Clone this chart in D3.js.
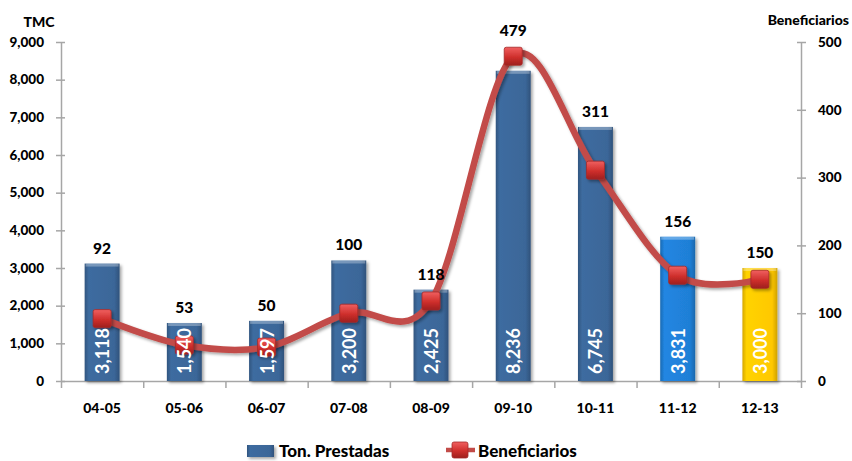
<!DOCTYPE html>
<html>
<head>
<meta charset="utf-8">
<script src="https://cdn.jsdelivr.net/npm/d3@7"></script>
<style>
  body { margin: 0; background: #fff; }
  svg { font-family: Lato, "Open Sans", sans-serif; font-weight: 900; }
</style>
</head>
<body>
<div id="chart"></div>
<script>
"use strict"

// chart data
var periods = ['04-05', '05-06', '06-07', '07-08', '08-09', '09-10', '10-11', '11-12', '12-13'];
var tonPrestadas = [3118, 1540, 1597, 3200, 2425, 8236, 6745, 3831, 3000];
var beneficiarios = [92, 53, 50, 100, 118, 479, 311, 156, 150];
var barColors = ['#3b6698', '#3b6698', '#3b6698', '#3b6698', '#3b6698', '#3b6698', '#3b6698', '#1f7fd6', '#ffc800'];
var leftTicks = [0, 1000, 2000, 3000, 4000, 5000, 6000, 7000, 8000, 9000];
var rightTicks = [0, 100, 200, 300, 400, 500];

var width = 852, height = 461;
var plotLeft = 61, plotRight = 801, plotTop = 42, plotBottom = 381;

var svg = d3.select("#chart")
    .append("svg")
    .attr("width", width)
    .attr("height", height);

// gradients and shadow
var defs = svg.append("defs");
function barGradient(id, color) {
    var c = d3.color(color);
    var g = defs.append("linearGradient").attr("id", id)
        .attr("x1", 0).attr("x2", 1).attr("y1", 0).attr("y2", 0);
    g.append("stop").attr("offset", "0%").attr("stop-color", c.darker(0.5));
    g.append("stop").attr("offset", "12%").attr("stop-color", c.brighter(0.15));
    g.append("stop").attr("offset", "85%").attr("stop-color", c);
    g.append("stop").attr("offset", "100%").attr("stop-color", c.darker(0.6));
}
barColors.forEach(function(c, i) { barGradient("bar" + i, c); });
var mg = defs.append("linearGradient").attr("id", "marker")
    .attr("x1", 0).attr("x2", 0).attr("y1", 0).attr("y2", 1);
mg.append("stop").attr("offset", "0%").attr("stop-color", "#f06060");
mg.append("stop").attr("offset", "55%").attr("stop-color", "#cf2f2c");
mg.append("stop").attr("offset", "100%").attr("stop-color", "#9e1f1d");
var sh = defs.append("filter").attr("id", "shadow")
    .attr("x", "-20%").attr("y", "-20%").attr("width", "150%").attr("height", "150%");
sh.append("feDropShadow").attr("dx", 2).attr("dy", 2).attr("stdDeviation", 1.5)
    .attr("flood-color", "#000").attr("flood-opacity", 0.35);

// scales
var x = d3.scaleBand()
    .domain(periods)
    .range([plotLeft, plotRight])
    .paddingInner(0.575)
    .paddingOuter(0.2875);
var xEdge = d3.scaleLinear().domain([0, periods.length]).range([plotLeft, plotRight]);
var yLeft = d3.scaleLinear().domain([0, 9000]).range([plotBottom, plotTop]);
var yRight = d3.scaleLinear().domain([0, 500]).range([plotBottom, plotTop]);

// axes
var axisColor = "#a6a6a6";
function styleAxis(g) {
    g.selectAll("path, line").attr("stroke", axisColor).attr("stroke-width", 1.5);
    g.selectAll("text").attr("fill", "#000").style("font-family", "Lato, sans-serif").style("font-weight", "900");
}
svg.append("g")
    .attr("transform", "translate(" + plotLeft + ",0)")
    .call(d3.axisLeft(yLeft).tickValues(leftTicks).tickFormat(d3.format(",")).tickSize(10).tickSizeOuter(0).tickPadding(7))
    .call(function(g) { g.selectAll(".tick line").attr("x1", -5).attr("x2", 4); })
    .call(styleAxis)
    .selectAll("text").style("font-size", "13.5px");

svg.append("g")
    .attr("transform", "translate(" + plotRight + ",0)")
    .call(d3.axisRight(yRight).tickValues(rightTicks).tickFormat(d3.format(",")).tickSize(10).tickSizeOuter(0).tickPadding(7))
    .call(function(g) { g.selectAll(".tick line").attr("x1", -4).attr("x2", 5); })
    .call(styleAxis)
    .selectAll("text").style("font-size", "13.5px");

svg.append("g")
    .attr("transform", "translate(0," + plotBottom + ")")
    .call(d3.axisBottom(xEdge).ticks(periods.length).tickFormat("").tickSize(7).tickSizeOuter(0))
    .call(styleAxis);

svg.append("g")
    .attr("transform", "translate(0," + plotBottom + ")")
    .call(d3.axisBottom(x).tickSize(0).tickPadding(22))
    .call(function(g) { g.select(".domain").remove(); })
    .call(styleAxis)
    .selectAll("text").style("font-size", "14px");

// axis titles
svg.append("text").attr("x", 39).attr("y", 27).attr("text-anchor", "middle")
    .style("font-size", "14px").text("TMC");
svg.append("text").attr("x", 849).attr("y", 25).attr("text-anchor", "end")
    .style("font-size", "14px").text("Beneficiarios");

// bars
var bars = svg.append("g");
bars.selectAll("rect")
    .data(tonPrestadas)
    .enter()
    .append("rect")
    .attr("x", function(d, i) { return x(periods[i]); })
    .attr("y", function(d) { return yLeft(d); })
    .attr("width", x.bandwidth())
    .attr("height", function(d) { return plotBottom - yLeft(d); })
    .attr("fill", function(d, i) { return "url(#bar" + i + ")"; })
    .attr("filter", "url(#shadow)");
// bevel highlight on top
bars.selectAll(".bevel")
    .data(tonPrestadas)
    .enter()
    .append("rect")
    .attr("x", function(d, i) { return x(periods[i]) + 1; })
    .attr("y", function(d) { return yLeft(d); })
    .attr("width", x.bandwidth() - 2)
    .attr("height", 3)
    .attr("fill", "#fff")
    .attr("opacity", 0.3);

// line
var line = d3.line()
    .x(function(d, i) { return x(periods[i]) + x.bandwidth() / 2; })
    .y(function(d) { return yRight(d); })
    .curve(d3.curveCardinal.tension(0));
svg.append("path")
    .datum(beneficiarios)
    .attr("d", line)
    .attr("fill", "none")
    .attr("stroke", "#c24b48")
    .attr("stroke-width", 6.5)
    .attr("stroke-linecap", "round")
    .attr("filter", "url(#shadow)");

// markers
var ms = 18;
svg.append("g").selectAll("rect")
    .data(beneficiarios)
    .enter()
    .append("rect")
    .attr("x", function(d, i) { return x(periods[i]) + x.bandwidth() / 2 - ms / 2; })
    .attr("y", function(d) { return yRight(d) - ms / 2; })
    .attr("width", ms)
    .attr("height", ms)
    .attr("rx", 2)
    .attr("fill", "url(#marker)")
    .attr("stroke", "#a52a28")
    .attr("stroke-width", 0.8)
    .attr("filter", "url(#shadow)");

// values inside bars, drawn over the line
svg.append("g").selectAll("text")
    .data(tonPrestadas)
    .enter()
    .append("text")
    .attr("transform", function(d, i) {
        return "translate(" + (x(periods[i]) + x.bandwidth() / 2 + 7) + "," + (plotBottom - 7) + ") rotate(-90)";
    })
    .attr("fill", "#fff")
    .style("font-size", "18px")
    .style("font-weight", "bold")
    .text(function(d) { return d3.format(",")(d); });

// beneficiarios labels above bars
svg.append("g").selectAll("text")
    .data(beneficiarios)
    .enter()
    .append("text")
    .attr("x", function(d, i) { return x(periods[i]) + x.bandwidth() / 2; })
    .attr("y", function(d, i) { return Math.min(yLeft(tonPrestadas[i]), yRight(d) - 10) - 10; })
    .attr("text-anchor", "middle")
    .style("font-size", "15.5px")
    .text(function(d) { return d; });

// legend
var lg = svg.append("g");
lg.append("rect").attr("x", 247).attr("y", 445).attr("width", 27).attr("height", 12)
    .attr("fill", "url(#bar0)").attr("filter", "url(#shadow)");
lg.append("text").attr("x", 279).attr("y", 457).style("font-size", "17px").text("Ton. Prestadas");
lg.append("line").attr("x1", 446).attr("x2", 475).attr("y1", 450).attr("y2", 450)
    .attr("stroke", "#c24b48").attr("stroke-width", 4.5);
lg.append("rect").attr("x", 452).attr("y", 442).attr("width", 16).attr("height", 16).attr("rx", 2)
    .attr("fill", "url(#marker)").attr("stroke", "#a52a28").attr("stroke-width", 0.8);
lg.append("text").attr("x", 478).attr("y", 457).style("font-size", "17px").text("Beneficiarios");
</script>
</body>
</html>
